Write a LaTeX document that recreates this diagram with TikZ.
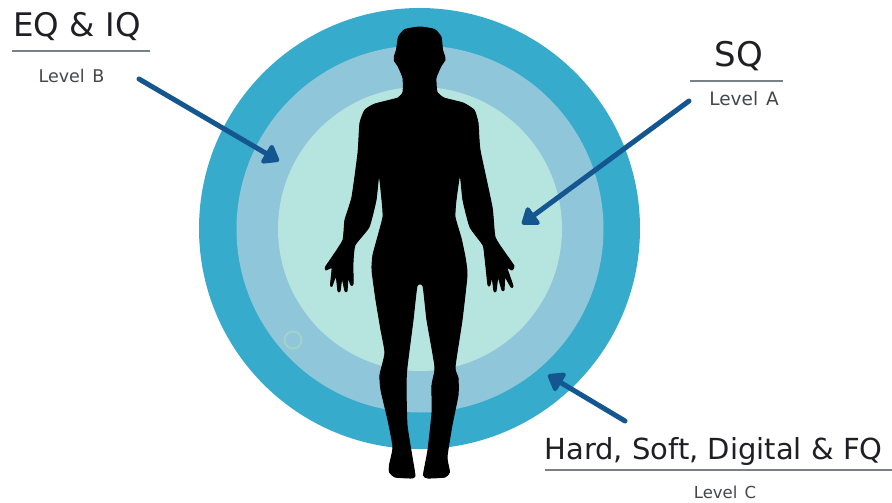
\documentclass[tikz,border=0pt]{standalone}
\usepackage{fontspec}
\setmainfont{DejaVu Sans}
\usetikzlibrary{arrows.meta}
\definecolor{ringC}{HTML}{36ABCB}
\definecolor{ringB}{HTML}{8FC6DA}
\definecolor{ringA}{HTML}{B6E5DF}
\definecolor{spotline}{HTML}{A5D3C8}
\definecolor{arrowblue}{HTML}{14568F}
\definecolor{rulegrey}{HTML}{7A8088}
\definecolor{headtext}{HTML}{1E1E24}
\definecolor{leveltext}{HTML}{45464C}
\tikzset{
  ring/.style={circle,inner sep=0pt,minimum size=#1},
  headline/.style={inner sep=0pt,text=headtext,font=\fontsize{#1}{#1}\selectfont},
  levellabel/.style={inner sep=0pt,text=leveltext,font=\fontsize{#1}{#1}\selectfont},
  rulerline/.style={draw=rulegrey,line width=1.1pt},
  pointer/.style={draw=arrowblue,line width=5pt,line cap=round,
    -{Triangle[length=17pt,width=24pt,round,fill=arrowblue]}},
}
\begin{document}
\begin{tikzpicture}[x=1pt,y=-1pt]
\useasboundingbox (0,0) rectangle (892,503);
\node[ring=441pt,fill=ringC] (outer) at (419.5,228.5) {};
\node[ring=367pt,fill=ringB] (middle) at (420,229) {};
\node[ring=284pt,fill=ringA] (inner) at (420,229) {};
\node[ring=17pt,draw=spotline,line width=1.8pt] (spot) at (293,340) {};
% body silhouette
\fill[black,draw=black,line width=1pt,line join=round] plot[smooth cycle,tension=.3] coordinates {
 (420,27) (405,29.5) (398.5,37) (396.5,50) (394.5,56) (394.5,61) (398,66) (403,78) (403,92)
 (398,98) (375,104) (365,110) (360,123) (358,153) (352,197) (345,220) (343,240)
 (333,256) (325.5,267) (326,270) (332,268) (330.5,285) (332,286) (336,276) (338,291) (340,291)
 (342,278) (345,291) (347,291) (348,278) (351,285) (353,284) (353,262) (355,245)
 (369,227) (376,200) (379,174) (382,200) (383,217) (377,240) (373,255) (372,270)
 (376,300) (381,330) (385,353) (380,375) (381,390) (388,420) (393,447) (389.5,465) (389.5,472) (395,477)
 (411,478) (415,476) (412,457) (407,425) (406,385) (407,367) (413,320) (417,286) (423,286)
 (427,320) (435,367) (432,385) (432,413) (428,450) (423.5,475) (428,478) (445,477) (449.5,472)
 (447,457) (452,425) (458,395) (458,378) (455,367) (462,320) (467,275)
 (465,257) (461,238) (455,217) (456,200) (460,174) (463,200) (470,227) (483,245)
 (485,258) (488,285) (490,285) (492,277) (494,291) (496,291) (498,277) (502,290) (504,290) (505,277)
 (511,287) (513,286) (507,268) (512,270) (514,266) (505,253) (495,237) (492,207) (480,150) (478,123)
 (474,110) (463,103) (444,98) (437,92) (436,78) (441,66) (445,60) (444.5,56) (442.5,50) (441,37) (434.5,29.5)
};
% headings
\node[headline=32.5] (eq) at (77,27) {EQ \& IQ};
\node[levellabel=17.5] (lb) at (71.5,76) {Level\hspace{2pt} B};
\node[headline=34] (sq) at (739,56) {SQ};
\node[levellabel=18.5] (la) at (744,99) {Level\hspace{2pt} A};
\node[headline=29] (hs) at (713.5,451) {Hard, Soft, Digital \& FQ};
\node[levellabel=16.5] (lc) at (725,492) {Level\hspace{2pt} C};
% rules
\coordinate (r1a) at (12,51); \coordinate (r1b) at (150,51);
\coordinate (r2a) at (690,81); \coordinate (r2b) at (783,81);
\coordinate (r3a) at (545,470); \coordinate (r3b) at (892,470);
\draw[rulerline] (r1a) -- (r1b);
\draw[rulerline] (r2a) -- (r2b);
\draw[rulerline] (r3a) -- (r3b);
% arrows
\coordinate (ab0) at (139,79); \coordinate (ab1) at (279,161);
\coordinate (aa0) at (689,101); \coordinate (aa1) at (522,224);
\coordinate (ac0) at (625,421); \coordinate (ac1) at (548,375);
\draw[pointer] (ab0) -- (ab1);
\draw[pointer] (aa0) -- (aa1);
\draw[pointer] (ac0) -- (ac1);
\end{tikzpicture}
\end{document}
